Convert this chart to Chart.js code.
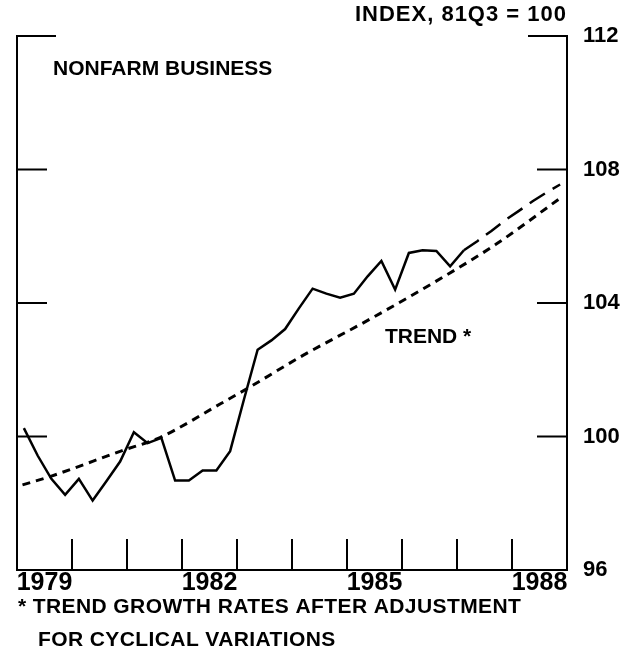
<!DOCTYPE html>
<html>
<head>
<meta charset="utf-8">
<script src="https://cdn.jsdelivr.net/npm/chart.js@4.4.1/dist/chart.umd.min.js"></script>
<style>
  html, body { margin: 0; padding: 0; background: #fff; }
</style>
</head>
<body>
<canvas id="productividad" width="636" height="667"></canvas>
<script>
//Datos trimestrales (indice, 81Q3 = 100)
const quarters = [
  '1979Q1','1979Q2','1979Q3','1979Q4',
  '1980Q1','1980Q2','1980Q3','1980Q4',
  '1981Q1','1981Q2','1981Q3','1981Q4',
  '1982Q1','1982Q2','1982Q3','1982Q4',
  '1983Q1','1983Q2','1983Q3','1983Q4',
  '1984Q1','1984Q2','1984Q3','1984Q4',
  '1985Q1','1985Q2','1985Q3','1985Q4',
  '1986Q1','1986Q2','1986Q3','1986Q4',
  '1987Q1'
];
const actual = [
  100.25, 99.43, 98.73, 98.25,
  98.73, 98.08, 98.66, 99.25,
  100.13, 99.80, 99.96, 98.68,
  98.68, 98.98, 98.98, 99.56,
  101.10, 102.60, 102.88, 103.22,
  103.84, 104.43, 104.28, 104.16,
  104.28, 104.80, 105.26, 104.40,
  105.50, 105.58, 105.56, 105.10,
  105.58
];

//Proyeccion (linea de trazos largos)
const projQuarters = ['1987Q1','1987Q2','1987Q3','1987Q4','1988Q1','1988Q2','1988Q3','1988Q4'];
const projected = [105.58, 105.86, 106.16, 106.48, 106.76, 107.05, 107.31, 107.55];

const trendYears = [1979.1, 1979.6, 1980.9, 1981.6, 1982.7, 1983.2, 1984.2, 1985.4, 1986.75, 1987.7, 1988.9];
const trendValues = [98.55, 98.80, 99.57, 99.97, 100.98, 101.45, 102.43, 103.50, 104.78, 105.75, 107.17];

//Ejes
const yearLabels = ['1979', '1982', '1985', '1988'];
const yTicks = [96, 100, 104, 108, 112];

//trimestre -> posicion en anos (centro del trimestre)
function quarterToX(q) {
  return parseInt(q.slice(0, 4)) + (parseInt(q.slice(5)) - 0.5) / 4;
}

const FONT = '"Liberation Sans", Arial, sans-serif';

//Marco, marcas de los ejes y textos
const marco = {
  id: 'marco',
  afterDatasetsDraw(chart) {
    const { ctx, chartArea: a, scales: { x, y } } = chart;
    ctx.save();
    ctx.strokeStyle = '#000';
    ctx.lineWidth = 2;
    ctx.lineCap = 'square';
    ctx.beginPath();
    ctx.moveTo(a.left, a.top);
    ctx.lineTo(a.left, a.bottom);
    ctx.lineTo(a.right, a.bottom);
    ctx.lineTo(a.right, a.top);
    for (let yr = 1980; yr <= 1988; yr++) {
      const px = x.getPixelForValue(yr);
      ctx.moveTo(px, a.bottom);
      ctx.lineTo(px, a.bottom - 30);
    }
    yTicks.forEach(v => {
      if (v === 96) return;
      const py = y.getPixelForValue(v);
      const len = v === 112 ? 38 : 29;
      ctx.moveTo(a.left, py);
      ctx.lineTo(a.left + len, py);
      ctx.moveTo(a.right, py);
      ctx.lineTo(a.right - len, py);
    });
    ctx.stroke();

    ctx.fillStyle = '#000';
    ctx.font = 'bold 21px ' + FONT;
    ctx.textBaseline = 'middle';
    ctx.textAlign = 'left';
    ctx.fillText('NONFARM BUSINESS', 53, 69);
    ctx.fillText('TREND *', x.getPixelForValue(1985.69), y.getPixelForValue(102.97));
    ctx.letterSpacing = '0.4px';
    ctx.fillText('* TREND GROWTH RATES AFTER ADJUSTMENT', 18, 607);
    ctx.fillText('FOR CYCLICAL VARIATIONS', 38, 640);
    ctx.letterSpacing = '1px';
    ctx.font = 'bold 22px ' + FONT;
    ctx.textAlign = 'right';
    ctx.fillText('INDEX, 81Q3 = 100', a.right, 15);
    ctx.restore();
  }
};

const productividad = document.getElementById('productividad');

let productividad_OBJ = new Chart(productividad, {
  type: 'line',
  data: {
    datasets: [{
      label: 'Nonfarm business',
      data: quarters.map((q, i) => ({ x: quarterToX(q), y: actual[i] })),
      borderColor: '#000',
      borderWidth: 2.5,
      pointRadius: 0,
      tension: 0
    }, {
      label: 'Projection',
      data: projQuarters.map((q, i) => ({ x: quarterToX(q), y: projected[i] })),
      borderColor: '#000',
      borderWidth: 2.5,
      borderDash: [18, 9],
      pointRadius: 0,
      tension: 0
    }, {
      label: 'Trend',
      data: trendYears.map((t, i) => ({ x: t, y: trendValues[i] })),
      borderColor: '#000',
      borderWidth: 3,
      borderDash: [8, 6],
      pointRadius: 0,
      cubicInterpolationMode: 'monotone'
    }]
  },
  options: {
    responsive: false,
    animation: false,
    devicePixelRatio: 1,
    layout: { padding: { top: 36, left: 17, right: 0, bottom: 0 } },
    plugins: {
      legend: { display: false },
      tooltip: { enabled: false }
    },
    scales: {
      x: {
        type: 'linear',
        min: 1979,
        max: 1989,
        afterBuildTicks: s => { s.ticks = yearLabels.map(l => ({ value: parseInt(l) + 0.5 })); },
        afterFit: s => { s.height = 97; },
        grid: { display: false },
        border: { display: false },
        ticks: {
          callback: v => String(v - 0.5),
          color: '#000',
          font: { family: FONT, size: 25, weight: 'bold' },
          maxRotation: 0,
          autoSkip: false,
          padding: -10
        }
      },
      y: {
        position: 'right',
        min: 96,
        max: 112,
        afterBuildTicks: s => { s.ticks = yTicks.map(v => ({ value: v })); },
        afterFit: s => { s.width = 69; },
        grid: { display: false },
        border: { display: false },
        ticks: {
          color: '#000',
          font: { family: FONT, size: 22, weight: 'bold' },
          padding: 8
        }
      }
    }
  },
  plugins: [marco]
});
</script>
</body>
</html>
